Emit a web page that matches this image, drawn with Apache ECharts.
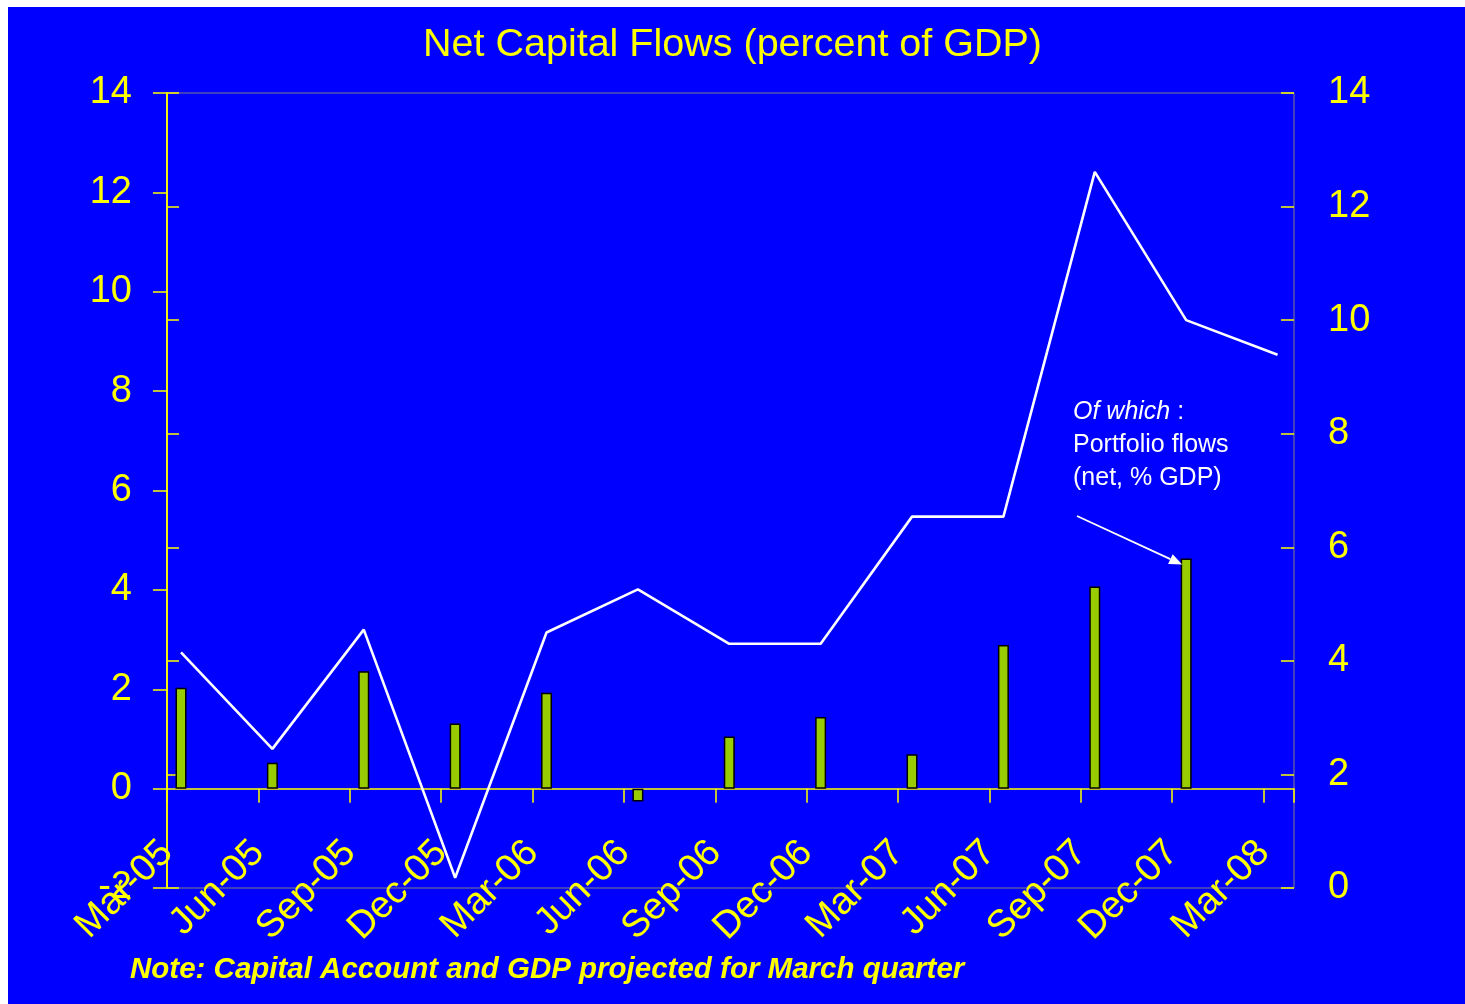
<!DOCTYPE html>
<html>
<head>
<meta charset="utf-8">
<title>Net Capital Flows (percent of GDP)</title>
<script src="https://cdn.jsdelivr.net/npm/echarts@6/dist/echarts.min.js"></script>
<style>
  html, body { margin: 0; padding: 0; background: #ffffff; }
  #chart { width: 1465px; height: 1004px; }
</style>
</head>
<body>
<div id="chart"></div>
<script>
// Quarter labels shown on the date axis (one tick every three months)
const QUARTERS = ['Mar-05', 'Jun-05', 'Sep-05', 'Dec-05', 'Mar-06', 'Jun-06', 'Sep-06',
                  'Dec-06', 'Mar-07', 'Jun-07', 'Sep-07', 'Dec-07', 'Mar-08'];

// Net capital flows, percent of GDP (right axis)
const NET_CAPITAL_FLOWS = [4.15, 2.45, 4.55, 0.18, 4.50, 5.26, 4.30, 4.30, 6.54, 6.54, 12.61, 10.00, 9.39];

// Of which: portfolio flows, net, percent of GDP (left axis)
const PORTFOLIO_FLOWS = [2.03, 0.52, 2.36, 1.31, 1.93, -0.26, 1.05, 1.44, 0.69, 2.89, 4.07, 4.63, null];

// Axis ranges
const LEFT_AXIS = { min: -2, max: 14, interval: 2 };
const RIGHT_AXIS = { min: 0, max: 14, interval: 2 };
const MONTH_AXIS = { min: 0, max: 37, interval: 3 };   // months from 1 Mar 2005 to end of Mar 2008

// Observations are dated mid-month; x is measured in months from 1 Mar 2005
const MID_MONTH = 0.46;
const monthOf = i => i * 3 + MID_MONTH;

const YELLOW = '#FFFF00';
const FONT = '"Liberation Sans", Arial, Helvetica, sans-serif';

const barData = PORTFOLIO_FLOWS.map((v, i) => [monthOf(i), v]);
const lineData = NET_CAPITAL_FLOWS.map((v, i) => [monthOf(i), v]);

const quarterLabel = v => {
  const q = v / 3;
  return Number.isInteger(q) && q < QUARTERS.length ? QUARTERS[q] : '';
};

const axisStroke = { color: YELLOW, width: 1.5 };

const chart = echarts.init(document.getElementById('chart'), null, { renderer: 'canvas' });

chart.setOption({
  animation: false,
  backgroundColor: '#0000FF',
  textStyle: { fontFamily: FONT },
  title: [
    {
      text: 'Net Capital Flows (percent of GDP)',
      left: 'center',
      top: 25,
      padding: 0,
      textStyle: { color: YELLOW, fontSize: 39.5, fontWeight: 'normal', fontFamily: FONT }
    },
    {
      text: 'Note: Capital Account and GDP projected for March quarter',
      left: 130,
      top: 955,
      padding: 0,
      textStyle: { color: YELLOW, fontSize: 29.5, fontWeight: 'bold', fontStyle: 'italic', fontFamily: FONT }
    }
  ],
  grid: {
    left: 167,
    right: 171,
    top: 93,
    bottom: 116,
    show: true,
    borderColor: '#808080',
    borderWidth: 1,
    backgroundColor: 'transparent',
    containLabel: false
  },
  xAxis: [
    {
      // zero line of the left axis, with quarter ticks hanging below it
      type: 'value',
      min: MONTH_AXIS.min,
      max: MONTH_AXIS.max,
      interval: MONTH_AXIS.interval,
      position: 'bottom',
      axisLine: { show: true, onZero: true, onZeroAxisIndex: 0, lineStyle: axisStroke },
      axisTick: { show: true, inside: false, length: 14, lineStyle: axisStroke },
      axisLabel: { show: false },
      splitLine: { show: false }
    },
    {
      // quarter labels along the bottom of the plot
      type: 'value',
      min: MONTH_AXIS.min,
      max: MONTH_AXIS.max,
      interval: MONTH_AXIS.interval,
      position: 'bottom',
      axisLine: { show: false, onZero: false },
      axisTick: { show: false },
      axisLabel: {
        show: true,
        rotate: 45,
        margin: -41,
        color: YELLOW,
        fontSize: 38,
        fontFamily: FONT,
        formatter: quarterLabel
      },
      splitLine: { show: false }
    }
  ],
  yAxis: [
    {
      type: 'value',
      position: 'left',
      min: LEFT_AXIS.min,
      max: LEFT_AXIS.max,
      interval: LEFT_AXIS.interval,
      axisLine: { show: true, lineStyle: axisStroke },
      axisTick: { show: true, inside: false, length: 14, lineStyle: axisStroke },
      axisLabel: { color: YELLOW, fontSize: 38, margin: 35, fontFamily: FONT },
      splitLine: { show: false }
    },
    {
      type: 'value',
      position: 'right',
      min: RIGHT_AXIS.min,
      max: RIGHT_AXIS.max,
      interval: RIGHT_AXIS.interval,
      axisLine: { show: true, lineStyle: axisStroke },
      axisTick: { show: true, inside: false, length: 12, lineStyle: axisStroke },
      axisLabel: { color: YELLOW, fontSize: 38, margin: 34, fontFamily: FONT },
      splitLine: { show: false }
    },
    {
      // inner half of the crossing ticks on the right axis
      type: 'value',
      position: 'right',
      min: RIGHT_AXIS.min,
      max: RIGHT_AXIS.max,
      interval: RIGHT_AXIS.interval,
      axisLine: { show: false },
      axisTick: { show: true, inside: true, length: 13, lineStyle: axisStroke },
      axisLabel: { show: false },
      splitLine: { show: false }
    }
  ],
  series: [
    {
      name: 'Portfolio flows (net, % GDP)',
      type: 'bar',
      xAxisIndex: 0,
      yAxisIndex: 0,
      barWidth: 11,
      data: barData,
      itemStyle: { color: '#99CC00', borderColor: '#000000', borderWidth: 1.5 },
      z: 3
    },
    {
      name: 'Net capital flows (% GDP)',
      type: 'line',
      xAxisIndex: 0,
      yAxisIndex: 1,
      data: lineData,
      showSymbol: false,
      symbol: 'none',
      lineStyle: { color: '#FFFFFF', width: 2.6 },
      z: 4
    }
  ],
  graphic: [
    { type: 'rect', id: 'edgeTop', shape: { x: 0, y: 0, width: 1465, height: 7 }, style: { fill: '#ffffff' }, z: 100 },
    { type: 'rect', id: 'edgeLeft', shape: { x: 0, y: 0, width: 8, height: 1004 }, style: { fill: '#ffffff' }, z: 100 },
    {
      type: 'text',
      id: 'note',
      x: 1073,
      y: 396,
      z: 100,
      style: {
        text: '{i|Of which} :\nPortfolio flows\n(net, % GDP)',
        fill: '#FFFFFF',
        font: '25px ' + FONT,
        lineHeight: 33,
        verticalAlign: 'top',
        rich: { i: { fontStyle: 'italic', fill: '#FFFFFF', fontSize: 25, fontFamily: FONT, lineHeight: 33 } }
      }
    }
  ]
});

// Arrow from the annotation to the top of the Dec-07 portfolio bar
const target = chart.convertToPixel({ xAxisIndex: 0, yAxisIndex: 0 }, barData[11]);
const tip = [target[0] - 4, target[1] + 6];
const start = [1077, 516];
const dx = tip[0] - start[0], dy = tip[1] - start[1];
const len = Math.hypot(dx, dy);
const ux = dx / len, uy = dy / len;
const headLen = 13, headHalf = 5.5;
const base = [tip[0] - ux * headLen, tip[1] - uy * headLen];

chart.setOption({
  graphic: [
    {
      type: 'line', id: 'arrowShaft', z: 100,
      shape: { x1: start[0], y1: start[1], x2: base[0], y2: base[1] },
      style: { stroke: '#FFFFFF', lineWidth: 1.8 }
    },
    {
      type: 'polygon', id: 'arrowHead', z: 100,
      shape: {
        points: [
          tip,
          [base[0] - uy * headHalf, base[1] + ux * headHalf],
          [base[0] + uy * headHalf, base[1] - ux * headHalf]
        ]
      },
      style: { fill: '#FFFFFF' }
    }
  ]
});
</script>
</body>
</html>
